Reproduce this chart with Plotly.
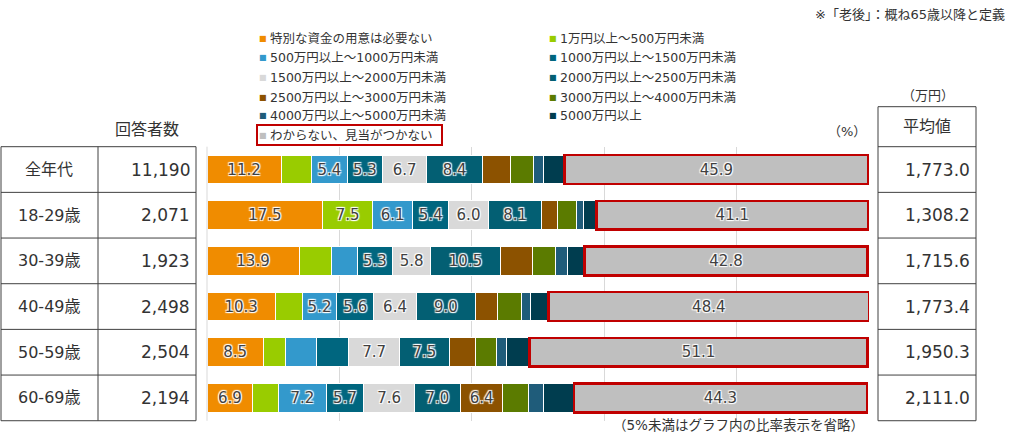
"""
Stacked 100% bars: 老後に向けて準備が必要だと思う資金の額, by age group,
with a respondents table on the left and the average (万円) on the right.
"""

import plotly.graph_objects as go

W, H = 1015, 442
FONT = "DejaVu Sans, Noto Sans CJK JP"

categories = ["全年代", "18-29歳", "30-39歳", "40-49歳", "50-59歳", "60-69歳"]
respondents = [11190, 2071, 1923, 2498, 2504, 2194]
averages = [1773.0, 1308.2, 1715.6, 1773.4, 1950.3, 2111.0]

series_names = [
    "特別な資金の用意は必要ない",
    "1万円以上～500万円未満",
    "500万円以上～1000万円未満",
    "1000万円以上～1500万円未満",
    "1500万円以上～2000万円未満",
    "2000万円以上～2500万円未満",
    "2500万円以上～3000万円未満",
    "3000万円以上～4000万円未満",
    "4000万円以上～5000万円未満",
    "5000万円以上",
    "わからない、見当がつかない",
]
s_none = [11.2, 17.5, 13.9, 10.3, 8.5, 6.9]
s_1_500 = [4.6, 7.5, 4.9, 4.1, 3.3, 3.9]
s_500_1000 = [5.4, 6.1, 3.9, 5.2, 4.7, 7.2]
s_1000_1500 = [5.3, 5.4, 5.3, 5.6, 4.9, 5.7]
s_1500_2000 = [6.7, 6.0, 5.8, 6.4, 7.7, 7.6]
s_2000_2500 = [8.4, 8.1, 10.5, 9.0, 7.5, 7.0]
s_2500_3000 = [4.2, 2.3, 4.9, 3.3, 4.0, 6.4]
s_3000_4000 = [3.5, 2.9, 3.5, 3.6, 3.1, 3.8]
s_4000_5000 = [1.5, 1.1, 1.7, 1.4, 1.5, 2.4]
s_5000_over = [3.2, 1.9, 2.6, 2.7, 3.5, 4.5]
s_unknown = [45.9, 41.1, 42.8, 48.4, 51.1, 44.3]

series_values = [s_none, s_1_500, s_500_1000, s_1000_1500, s_1500_2000,
                 s_2000_2500, s_2500_3000, s_3000_4000, s_4000_5000,
                 s_5000_over, s_unknown]
colors = ["#f08c00", "#99cc00", "#3399cc", "#00667f", "#d9d9d9",
          "#035f73", "#8c5200", "#5b7b00", "#1f5c7a", "#003d4f", "#bfbfbf"]

# pixel helpers (margins are zero, so paper == page)
def px(x):
    return x / W


def py(y):
    return 1 - y / H


ROW_TOP = 146.7
ROW_H = 45.67
X0, X1 = 207, 869

glow = ("1px 1px 1px #fff, -1px -1px 1px #fff, "
        "1px -1px 1px #fff, -1px 1px 1px #fff")

fig = go.Figure()
for i, (name, vals) in enumerate(zip(series_names, series_values)):
    last = i == len(series_names) - 1
    fig.add_trace(go.Bar(
        name=name, y=categories, x=vals, orientation="h",
        marker=dict(color=colors[i],
                    line=dict(color="#c00000" if last else "white",
                              width=2.5 if last else 1)),
        text=[f"{v:.1f}" if v >= 5 else "" for v in vals],
        textposition="inside", insidetextanchor="middle", textangle=0,
        textfont=dict(family=FONT, size=15, color="#404040", shadow=glow),
        hoverinfo="x+name", showlegend=False,
    ))

fig.update_layout(
    width=W, height=H, margin=dict(l=0, r=0, t=0, b=0),
    barmode="stack", bargap=0.37,
    plot_bgcolor="white", paper_bgcolor="white",
    font=dict(family=FONT, color="#333333"),
    xaxis=dict(domain=[px(X0), px(X1)], range=[0, 100], dtick=20,
               showgrid=True, gridcolor="#d9d9d9", gridwidth=1,
               zeroline=False, showticklabels=False, fixedrange=True),
    yaxis=dict(domain=[py(ROW_TOP + 6 * ROW_H), py(ROW_TOP)],
               categoryorder="array", categoryarray=categories,
               autorange="reversed", showticklabels=False, showgrid=False,
               zeroline=False, fixedrange=True),
)

shapes = []
annotations = []
line = dict(color="#404040", width=1)

# left gridline at 0%
shapes.append(dict(type="line", xref="paper", yref="paper",
                   x0=px(X0), x1=px(X0), y0=py(ROW_TOP + 6 * ROW_H), y1=py(ROW_TOP),
                   line=dict(color="#d9d9d9", width=1)))

# left table
shapes.append(dict(type="rect", xref="paper", yref="paper",
                   x0=px(1), x1=px(196), y0=py(ROW_TOP + 6 * ROW_H), y1=py(ROW_TOP),
                   line=line))
shapes.append(dict(type="line", xref="paper", yref="paper",
                   x0=px(98), x1=px(98), y0=py(ROW_TOP + 6 * ROW_H), y1=py(ROW_TOP),
                   line=line))
# right table
shapes.append(dict(type="rect", xref="paper", yref="paper",
                   x0=px(878), x1=px(976), y0=py(ROW_TOP + 6 * ROW_H), y1=py(106.7),
                   line=line))
shapes.append(dict(type="line", xref="paper", yref="paper",
                   x0=px(878), x1=px(976), y0=py(ROW_TOP), y1=py(ROW_TOP),
                   line=line))
for r in range(1, 6):
    yy = py(ROW_TOP + r * ROW_H)
    shapes.append(dict(type="line", xref="paper", yref="paper",
                       x0=px(1), x1=px(196), y0=yy, y1=yy, line=line))
    shapes.append(dict(type="line", xref="paper", yref="paper",
                       x0=px(878), x1=px(976), y0=yy, y1=yy, line=line))

for r, (cat, n, avg) in enumerate(zip(categories, respondents, averages)):
    yc = py(ROW_TOP + (r + 0.5) * ROW_H)
    annotations.append(dict(x=px(49), y=yc, text=cat, xanchor="center",
                            font=dict(size=16)))
    annotations.append(dict(x=px(192), y=yc, text=f"{n:,}", xanchor="right",
                            font=dict(size=17)))
    annotations.append(dict(x=px(972), y=yc, text=f"{avg:,.1f}", xanchor="right",
                            font=dict(size=17)))

annotations += [
    dict(x=px(147), y=py(129), text="回答者数", xanchor="center", font=dict(size=16)),
    dict(x=px(927), y=py(126), text="平均値", xanchor="center", font=dict(size=16)),
    dict(x=px(928), y=py(95), text="（万円）", xanchor="center", font=dict(size=13)),
    dict(x=px(847), y=py(131), text="（%）", xanchor="center", font=dict(size=13)),
    dict(x=px(1007), y=py(15), text="※「老後」：概ね65歳以降と定義",
         xanchor="right", font=dict(size=13)),
    dict(x=px(738), y=py(425), text="（5%未満はグラフ内の比率表示を省略）",
         xanchor="center", font=dict(size=13.5)),
]

# legend, two columns
legend_rows = [38, 58, 77.5, 97, 116, 135]
for i, name in enumerate(series_names):
    col, row = i % 2, i // 2
    mx = 263 if col == 0 else 553
    yy = py(legend_rows[row])
    annotations.append(dict(x=px(mx), y=yy, text="■", xanchor="center",
                            font=dict(size=8, color=colors[i])))
    annotations.append(dict(x=px(mx + 5), y=yy, text=name, xanchor="left",
                            font=dict(size=12.5)))

shapes.append(dict(type="rect", xref="paper", yref="paper",
                   x0=px(257), x1=px(442), y0=py(145), y1=py(125),
                   line=dict(color="#c00000", width=2)))

for a in annotations:
    a.update(xref="paper", yref="paper", showarrow=False, yanchor="middle")

fig.update_layout(shapes=shapes, annotations=annotations)

# the page body has an 8px default margin; drop it so the figure fills the window
fig.write_html("out.html", config={"displayModeBar": False},
               post_script="document.body.style.margin = '0';")
